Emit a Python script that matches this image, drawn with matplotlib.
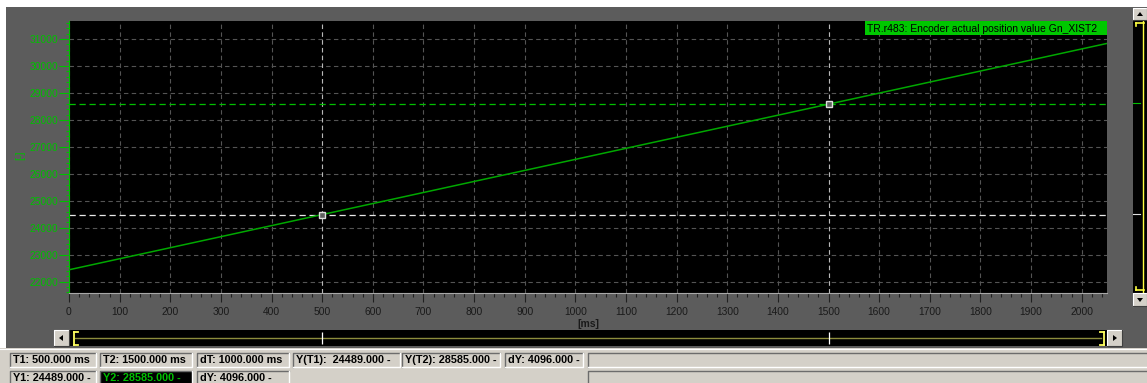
import matplotlib.pyplot as plt
from matplotlib.patches import Rectangle, Polygon
from matplotlib.lines import Line2D
from matplotlib.ticker import MultipleLocator

# trace data
t_ms = [0, 500, 1000, 1500, 2050]
pos = [22441, 24489, 26537, 28585, 30838]
t1, t2 = 500, 1500
y1, y2 = 24489, 28585
trace_name = "TR.r483: Encoder actual position value Gn_XIST2"

W, H = 1147, 383
GRAY = '#5c5c5c'
PANEL = '#d4d0c8'
GREEN = '#00c000'
FONT = 'Liberation Sans'

fig = plt.figure(figsize=(W / 100, H / 100), dpi=100, facecolor='white')


def rect(x0, y0, x1, y1, **kw):
    fig.patches.append(Rectangle((x0 / W, 1 - y1 / H), (x1 - x0) / W, (y1 - y0) / H,
                                 transform=fig.transFigure, **kw))


def line(xs, ys, **kw):
    fig.add_artist(Line2D([x / W for x in xs], [1 - y / H for y in ys],
                          transform=fig.transFigure, **kw))


def tri(pts, **kw):
    fig.patches.append(Polygon([(x / W, 1 - y / H) for x, y in pts], closed=True,
                               transform=fig.transFigure, **kw))


def px_axes(x0, y0, x1, y1):
    return fig.add_axes([x0 / W, 1 - y1 / H, (x1 - x0) / W, (y1 - y0) / H])


def button(x0, y0, x1, y1):
    rect(x0, y0, x1, y1, facecolor=PANEL, edgecolor='none', zorder=3)
    line([x0, x0, x1], [y1, y0, y0], color='white', lw=0.8, zorder=4)
    line([x0, x1, x1], [y1, y1, y0], color='#404040', lw=0.8, zorder=4)


# background
rect(6, 7, W, 348, facecolor=GRAY, edgecolor='none', zorder=-10)
rect(0, 348, W, H, facecolor=PANEL, edgecolor='none', zorder=-10)
line([0, W], [348.5, 348.5], color='white', lw=0.8, zorder=-9)

# main trace axes
ax = px_axes(69, 21, 1107, 293)
ax.set_facecolor('black')
ax.plot(t_ms, pos, color='#00a800', lw=1.1, zorder=3)
ax.set_xlim(0, 2050)
ax.set_ylim(21580, 31670)

ax.xaxis.set_major_locator(MultipleLocator(100))
ax.xaxis.set_minor_locator(MultipleLocator(20))
ax.yaxis.set_major_locator(MultipleLocator(1000))
ax.yaxis.set_minor_locator(MultipleLocator(200))
ax.set_xticks(range(0, 2001, 100))
ax.grid(True, which='major', color='#545454', lw=0.8, ls=(0, (4, 3)))

for s in ['top', 'right']:
    ax.spines[s].set_visible(False)
ax.spines['left'].set_color(GREEN)
ax.spines['bottom'].set_color('#a8a8a8')

ax.tick_params(axis='y', which='major', length=7.2, width=0.8, color=GREEN,
               labelcolor=GREEN, labelsize=7.4, pad=0.8)
ax.tick_params(axis='y', which='minor', length=2.2, width=0.8, color=GREEN)
ax.tick_params(axis='x', which='major', length=6.5, width=0.8, color='#202020',
               labelcolor='#1a1a1a', labelsize=7.4, pad=3.4)
ax.tick_params(axis='x', which='minor', length=2.9, width=0.8, color='#202020')
for lab in ax.get_xticklabels() + ax.get_yticklabels():
    lab.set_family(FONT)

# cursors
ax.axvline(t1, color='#b8b8b8', lw=0.8, ls=(0, (4, 3)), zorder=2)
ax.axvline(t2, color='#b8b8b8', lw=0.8, ls=(0, (4, 3)), zorder=2)
ax.axhline(y1, color='#e8e8e8', lw=0.9, ls=(0, (5, 3)), zorder=2)
ax.axhline(y2, color=GREEN, lw=0.9, ls=(0, (5, 3)), zorder=2)
ax.plot([t1, t2], [y1, y2], ls='none', marker='s', ms=5, mfc='#606060',
        mec='#e0e0e0', mew=1.0, zorder=4)

fig.text(20 / W, 1 - 155 / H, '[-]', color=GREEN, rotation=90, ha='center',
         va='center', fontsize=7.5, family=FONT)
fig.text(588 / W, 1 - 324 / H, '[ms]', color='#1a1a1a', ha='center', va='center',
         fontsize=7.5, family=FONT, fontweight='bold')

# trace name box
rect(865, 21, 1107, 35, facecolor='#00c800', edgecolor='none', zorder=5)
fig.text(867 / W, 1 - 28.5 / H, trace_name, color='black', ha='left', va='center',
         fontsize=7.5, family=FONT, zorder=6)

# vertical scroll widget on the right
ay = px_axes(1133, 20, W, 293)
ay.set_facecolor('black')
ay.set_ylim(ax.get_ylim())
ay.set_xlim(0, 1)
ay.set_xticks([])
ay.set_yticks([])
for s in ay.spines.values():
    s.set_visible(False)
ay.axvline(0.72, color='#ffff40', lw=1.0)
ay.axhline(y2, xmax=0.5, color=GREEN, lw=0.8)
ay.axhline(y1, xmax=0.5, color='#e0e0e0', lw=0.8)
line([1136, 1144], [23, 23], color='#ffff40', lw=1.2, zorder=3)
line([1136, 1136], [23, 26], color='#ffff40', lw=1.2, zorder=3)
line([1136, 1144], [290, 290], color='#ffff40', lw=1.2, zorder=3)
line([1136, 1136], [287, 290], color='#ffff40', lw=1.2, zorder=3)
button(1133, 8, W, 20)
tri([(1137, 16), (1143, 16), (1140, 12)], facecolor='black', edgecolor='none', zorder=5)
button(1133, 293, W, 306)
tri([(1137, 298), (1143, 298), (1140, 302)], facecolor='black', edgecolor='none', zorder=5)

# horizontal scroll bar
ah = px_axes(69, 330, 1107, 346)
ah.set_facecolor('black')
ah.set_xlim(ax.get_xlim())
ah.set_ylim(0, 1)
ah.set_xticks([])
ah.set_yticks([])
for s in ah.spines.values():
    s.set_visible(False)
ah.axhline(0.5, xmin=0.006, xmax=0.994, color='#8c8c3c', lw=1.0)
ah.vlines([t1, t2], 0.1, 0.9, color='white', lw=0.9)
for xs, ys in [([74, 74], [332, 345]), ([74, 78], [332, 332]), ([74, 78], [345, 345]),
               ([1104, 1104], [332, 345]), ([1100, 1104], [332, 332]),
               ([1100, 1104], [345, 345])]:
    line(xs, ys, color='#ffff60', lw=1.3, zorder=3)
button(54, 330, 69, 346)
tri([(63, 335), (63, 341), (59, 338)], facecolor='black', edgecolor='none', zorder=5)
button(1107, 330, 1122, 346)
tri([(1113, 335), (1113, 341), (1117, 338)], facecolor='black', edgecolor='none', zorder=5)

# status fields
row1 = [
    (10, 96, f"T1: {t1:.3f} ms"),
    (100, 192, f"T2: {t2:.3f} ms"),
    (197, 289, f"dT: {t2 - t1:.3f} ms"),
    (293, 400, f"Y(T1):  {y1:.3f} -"),
    (402, 500, f"Y(T2): {y2:.3f} -"),
    (505, 583, f"dY: {y2 - y1:.3f} -"),
    (588, W + 2, ""),
]
row2 = [
    (10, 96, f"Y1: {y1:.3f} -"),
    (100, 192, f"Y2: {y2:.3f} -"),
    (197, 289, f"dY: {y2 - y1:.3f} -"),
    (588, W + 2, ""),
]


def field(x0, x1, y0, y1, txt, dark=False):
    rect(x0, y0, x1, y1, facecolor='black' if dark else PANEL, edgecolor='none')
    line([x0, x0, x1], [y1, y0, y0], color='#6c6c6c', lw=1.0)
    line([x0, x1, x1], [y1, y1, y0], color='white', lw=1.0)
    if txt:
        fig.text((x0 + 3) / W, 1 - (y0 + y1) / 2 / H, txt, ha='left', va='center',
                 color=GREEN if dark else 'black', fontsize=7.8, family=FONT,
                 fontweight='bold')


for x0, x1, txt in row1:
    field(x0, x1, 353, 367, txt)
for x0, x1, txt in row2:
    field(x0, x1, 371, 385, txt, dark=txt.startswith('Y2'))

fig.savefig('out.png', dpi=100, facecolor=fig.get_facecolor())
